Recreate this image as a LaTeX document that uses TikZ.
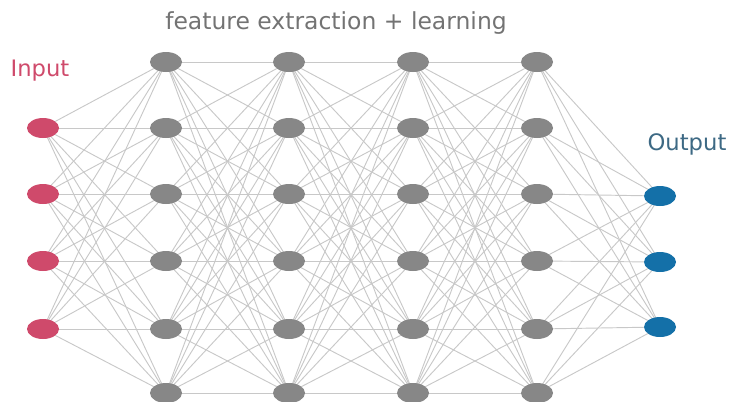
\documentclass[tikz,border=0pt]{standalone}
\usepackage{fontspec}
\setmainfont{DejaVu Sans}
\usepackage{xcolor}
\usetikzlibrary{shapes.geometric}
\usetikzlibrary{backgrounds}

\definecolor{inred}{HTML}{CF4A6B}
\definecolor{hidgray}{HTML}{878787}
\definecolor{outblue}{HTML}{1470A8}
\definecolor{linkgray}{HTML}{C8C8C8}

\begin{document}
\begin{tikzpicture}[
 x=0.75pt, y=-0.75pt,
 neuron/.style = {
    ellipse,
    minimum width = 24pt,
    minimum height = 15pt,
    inner sep = 0pt},
 link/.style = {draw=linkgray, line width=0.7pt},
 label/.style = {font=\fontsize{17}{20}\selectfont, inner sep=0pt}
  ]
\useasboundingbox (0,0) rectangle (730,401);

% layers
\foreach \n/\y in {1/128,2/194,3/261,4/329}
  \node(in\n)[neuron,fill=inred] at (43,\y) {};
\foreach \l/\x in {1/166,2/289,3/413,4/537}
  \foreach \n/\y in {1/62,2/128,3/194,4/261,5/329,6/393}
    \node(h\l-\n)[neuron,fill=hidgray] at (\x,\y) {};
\foreach \n/\y in {1/196,2/262,3/327}
  \node(out\n)[neuron,fill=outblue] at (660,\y) {};

% labels
\node(inlabel)[label,text=inred] at (40,71) {Input};
\node(title)[label,text=black!55,font=\fontsize{17.6}{20}\selectfont] at (336,23) {feature extraction + learning};
\node(outlabel)[label,text=outblue!60!black!80] at (687,144) {Output};

% connections
\begin{pgfonlayer}{background}
\foreach \a in {1,...,4}
  \foreach \b in {1,...,6}
    \draw[link] (in\a.center) -- (h1-\b.center);
\foreach \l/\m in {1/2,2/3,3/4}
  \foreach \a in {1,...,6}
    \foreach \b in {1,...,6}
      \draw[link] (h\l-\a.center) -- (h\m-\b.center);
\foreach \a in {1,...,6}
  \foreach \b in {1,2,3}
    \draw[link] (h4-\a.center) -- (out\b.center);
\end{pgfonlayer}

\end{tikzpicture}
\end{document}
